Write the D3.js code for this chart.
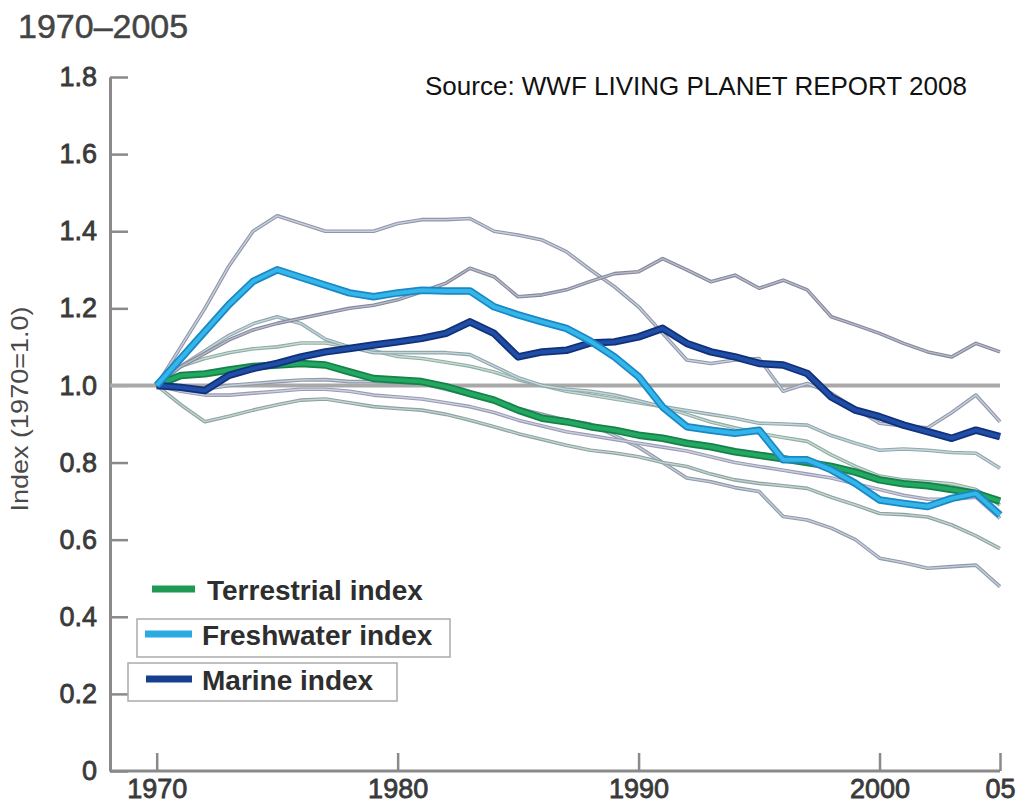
<!DOCTYPE html>
<html>
<head>
<meta charset="utf-8">
<script src="https://cdn.jsdelivr.net/npm/d3@7"></script>
<style>
  body { margin: 0; background: #fff; }
  svg { display: block; font-family: Arial, "Liberation Sans", Helvetica, sans-serif; }
</style>
</head>
<body>
<div id="chart"></div>
<script>
const width = 1029;
const height = 806;

// data (index, 1970 = 1.0)
const years = d3.range(1970, 2006);

const terrestrial = [1.00, 1.026, 1.03, 1.04, 1.049, 1.053, 1.057, 1.053, 1.035, 1.018,
  1.014, 1.01, 0.997, 0.979, 0.962, 0.936, 0.915, 0.906, 0.893, 0.884,
  0.871, 0.863, 0.85, 0.841, 0.828, 0.819, 0.81, 0.80, 0.79, 0.775,
  0.755, 0.745, 0.74, 0.73, 0.72, 0.70];

const freshwater = [1.00, 1.07, 1.14, 1.21, 1.27, 1.30, 1.28, 1.26, 1.24, 1.23,
  1.24, 1.247, 1.245, 1.245, 1.204, 1.183, 1.165, 1.148, 1.115, 1.074,
  1.023, 0.944, 0.893, 0.884, 0.876, 0.884, 0.807, 0.807, 0.781, 0.746,
  0.703, 0.694, 0.686, 0.707, 0.72, 0.664];

const marine = [1.00, 0.995, 0.987, 1.026, 1.044, 1.057, 1.074, 1.087, 1.096, 1.105,
  1.113, 1.122, 1.135, 1.165, 1.135, 1.074, 1.087, 1.091, 1.11, 1.113,
  1.126, 1.148, 1.109, 1.087, 1.074, 1.057, 1.053, 1.031, 0.97, 0.936,
  0.919, 0.897, 0.88, 0.863, 0.884, 0.867];

// thin confidence limit lines
const limitA = [1.00, 1.10, 1.20, 1.31, 1.40, 1.44, 1.42, 1.40, 1.40, 1.40,
  1.42, 1.43, 1.43, 1.433, 1.40, 1.39, 1.377, 1.347, 1.30, 1.256,
  1.204, 1.135, 1.066, 1.057, 1.066, 1.07, 0.985, 1.005, 0.98, 0.94,
  0.902, 0.895, 0.89, 0.93, 0.975, 0.906];

const limitB = [1.00, 1.049, 1.083, 1.118, 1.144, 1.161, 1.174, 1.187, 1.20, 1.208,
  1.222, 1.243, 1.265, 1.304, 1.282, 1.23, 1.235, 1.248, 1.27, 1.29,
  1.295, 1.329, 1.30, 1.269, 1.286, 1.252, 1.273, 1.248, 1.178, 1.157,
  1.135, 1.109, 1.087, 1.074, 1.109, 1.087];

const limitC = [1.00, 1.05, 1.09, 1.13, 1.16, 1.178, 1.16, 1.12, 1.10, 1.085,
  1.085, 1.085, 1.085, 1.08, 1.05, 1.02, 1.00, 0.99, 0.985, 0.975,
  0.96, 0.945, 0.935, 0.925, 0.915, 0.902, 0.90, 0.897, 0.87, 0.85,
  0.832, 0.835, 0.832, 0.826, 0.824, 0.785];

const limitD = [1.00, 0.95, 0.906, 0.92, 0.936, 0.95, 0.962, 0.965, 0.955, 0.945,
  0.94, 0.936, 0.925, 0.91, 0.893, 0.875, 0.86, 0.845, 0.832, 0.825,
  0.815, 0.80, 0.79, 0.77, 0.755, 0.746, 0.74, 0.733, 0.71, 0.69,
  0.668, 0.665, 0.659, 0.638, 0.61, 0.577];

const limitE = [1.00, 0.99, 0.99, 1.00, 1.005, 1.01, 1.014, 1.015, 1.01, 1.01,
  1.008, 1.005, 0.99, 0.975, 0.96, 0.94, 0.925, 0.91, 0.90, 0.87,
  0.84, 0.80, 0.76, 0.75, 0.735, 0.725, 0.66, 0.651, 0.63, 0.60,
  0.552, 0.54, 0.526, 0.53, 0.534, 0.478];

const limitF = [1.00, 1.05, 1.07, 1.085, 1.095, 1.10, 1.11, 1.11, 1.10, 1.09,
  1.075, 1.07, 1.06, 1.05, 1.035, 1.015, 1.00, 0.985, 0.975, 0.965,
  0.955, 0.945, 0.925, 0.905, 0.89, 0.876, 0.865, 0.855, 0.82, 0.79,
  0.765, 0.755, 0.75, 0.745, 0.73, 0.69];

const limitG = [1.00, 0.985, 0.975, 0.975, 0.98, 0.985, 0.99, 0.99, 0.985, 0.975,
  0.97, 0.965, 0.955, 0.945, 0.93, 0.91, 0.895, 0.88, 0.87, 0.86,
  0.85, 0.84, 0.83, 0.815, 0.80, 0.79, 0.78, 0.77, 0.76, 0.745,
  0.73, 0.715, 0.705, 0.705, 0.71, 0.655];

const yTicks = [0, 0.2, 0.4, 0.6, 0.8, 1.0, 1.2, 1.4, 1.6, 1.8];
const xTicks = [1970, 1980, 1990, 2000, 2005];
const legendLabels = ['Terrestrial index', 'Freshwater index', 'Marine index'];

// layout
const axisX = 110;
const labelColor = '#3a3a3a';

let svg = d3.select('#chart').append('svg')
    .attr('width', width)
    .attr('height', height);

let x = d3.scaleLinear().domain([1970, 2005]).range([156.7, 1000]);
let y = d3.scaleLinear().domain([0, 1.8]).range([771, 77]);

// title + source
svg.append('text')
    .attr('x', 18)
    .attr('y', 38)
    .attr('font-size', 34)
    .attr('fill', '#444')
    .attr('stroke', '#444')
    .attr('stroke-width', 0.5)
    .text('1970\u20132005');

svg.append('text')
    .attr('x', 425)
    .attr('y', 95)
    .attr('font-size', 26)
    .attr('fill', '#111')
    .text('Source: WWF LIVING PLANET REPORT 2008');

svg.append('text')
    .attr('transform', 'translate(28,409) rotate(-90)')
    .attr('text-anchor', 'middle')
    .attr('font-size', 24)
    .attr('fill', '#4a4a4a')
    .attr('textLength', 205)
    .attr('lengthAdjust', 'spacingAndGlyphs')
    .text('Index (1970=1.0)');

// axes
let yAxis = svg.append('g')
    .attr('transform', 'translate(' + axisX + ',0)')
    .call(d3.axisLeft(y)
        .tickValues(yTicks)
        .tickSize(-18)
        .tickSizeOuter(0)
        .tickPadding(13)
        .tickFormat(d => d === 0 ? '0' : d3.format('.1f')(d)));

let xAxis = svg.append('g')
    .attr('transform', 'translate(0,' + y(0) + ')')
    .call(d3.axisBottom(x)
        .tickValues(xTicks)
        .tickSize(-18)
        .tickSizeOuter(0)
        .tickPadding(8)
        .tickFormat(d => d === 2005 ? '05' : d));

xAxis.select('.domain').remove();
xAxis.append('line')
    .attr('x1', axisX)
    .attr('x2', x(2005))
    .attr('stroke', '#8a8a8a')
    .attr('stroke-width', 3);

[yAxis, xAxis].forEach(g => {
  g.select('.domain').attr('stroke', '#8a8a8a').attr('stroke-width', 3);
  g.selectAll('.tick line').attr('stroke', '#8a8a8a').attr('stroke-width', 2.5);
  g.selectAll('.tick text')
      .attr('font-size', 27)
      .attr('font-family', 'Arial, "Liberation Sans", sans-serif')
      .attr('fill', labelColor)
      .attr('stroke', labelColor)
      .attr('stroke-width', 0.8);
});

// 1970 = 1.0 reference line
svg.append('line')
    .attr('x1', axisX)
    .attr('x2', x(2005))
    .attr('y1', y(1))
    .attr('y2', y(1))
    .attr('stroke', '#a9a9a9')
    .attr('stroke-width', 4);

let line = d3.line()
    .x((d, i) => x(years[i]))
    .y(d => y(d));

function drawSeries(values, edge, core, edgeWidth, coreWidth) {
  svg.append('path')
      .attr('d', line(values))
      .attr('fill', 'none')
      .attr('stroke', edge)
      .attr('stroke-width', edgeWidth)
      .attr('stroke-linejoin', 'round');
  svg.append('path')
      .attr('d', line(values))
      .attr('fill', 'none')
      .attr('stroke', core)
      .attr('stroke-width', coreWidth)
      .attr('stroke-linejoin', 'round');
}

drawSeries(limitE, '#8f99ab', '#c6ced8', 3.6, 1.4);
drawSeries(limitD, '#8ea3a1', '#c4d4d2', 3.6, 1.4);
drawSeries(limitG, '#9a9bb4', '#ccd0de', 3.6, 1.4);
drawSeries(limitF, '#90ada3', '#c8dbd4', 3.6, 1.4);
drawSeries(limitC, '#8fa8ad', '#c6d6da', 3.6, 1.4);
drawSeries(limitA, '#8f95aa', '#c8d0dc', 3.6, 1.4);
drawSeries(limitB, '#85879c', '#b9bccb', 3.6, 1.4);

drawSeries(terrestrial, '#16824a', '#22a860', 7.5, 4);
drawSeries(marine, '#12307a', '#1f4ea6', 7.5, 4);
drawSeries(freshwater, '#1a88c4', '#35b6ea', 7.5, 4);

// legend
let legend = svg.append('g');

legend.append('rect')
    .attr('x', 137).attr('y', 619)
    .attr('width', 313).attr('height', 38)
    .attr('fill', '#fff')
    .attr('stroke', '#aaa')
    .attr('stroke-width', 1.5);

legend.append('rect')
    .attr('x', 128).attr('y', 663)
    .attr('width', 269).attr('height', 38)
    .attr('fill', '#fff')
    .attr('stroke', '#aaa')
    .attr('stroke-width', 1.5);

const swatches = [
  {x1: 152, x2: 195, y: 589, tx: 207, ty: 600, color: '#1e9a55'},
  {x1: 145, x2: 192, y: 634, tx: 202, ty: 645, color: '#2aaae2'},
  {x1: 146, x2: 192, y: 679, tx: 202, ty: 690, color: '#173f8f'}
];

swatches.forEach((s, i) => {
  legend.append('line')
      .attr('x1', s.x1).attr('x2', s.x2)
      .attr('y1', s.y).attr('y2', s.y)
      .attr('stroke', s.color)
      .attr('stroke-width', 7);
  legend.append('text')
      .attr('x', s.tx)
      .attr('y', s.ty)
      .attr('font-size', 28)
      .attr('font-weight', 'bold')
      .attr('fill', '#2e2e2e')
      .text(legendLabels[i]);
});
</script>
</body>
</html>
